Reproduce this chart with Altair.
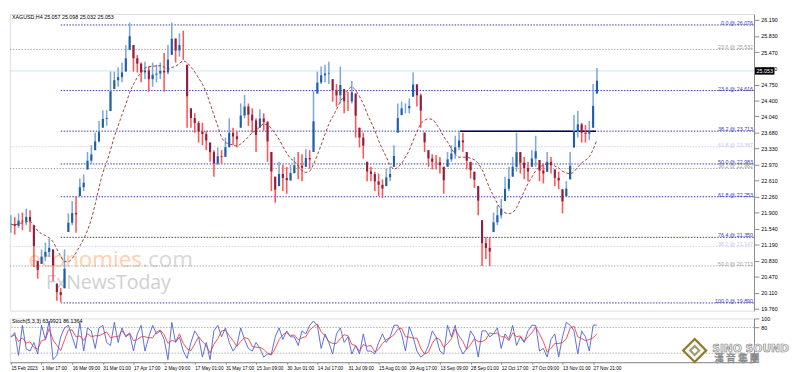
import json
import altair as alt
import pandas as pd

# ---------------- data ----------------
bar_high = [
    21.84, 21.80, 21.88, 21.90, 21.99, 21.95, 21.62, 20.82, 21.08, 21.23,
    21.32, 21.08, 20.32, 20.22, 21.08, 21.88, 22.16, 22.27, 22.66, 22.75,
    23.25, 23.40, 23.68, 23.94, 24.18, 24.18, 25.04, 25.04, 25.13, 25.24,
    25.63, 26.13, 25.63, 25.41, 25.24, 25.26, 25.15, 25.24, 25.19, 25.24,
    25.45, 25.63, 26.13, 25.78, 25.89, 25.95, 25.19, 24.22, 24.11, 23.94,
    23.90, 23.72, 23.46, 23.29, 23.35, 23.29, 23.57, 24.00, 23.79, 23.72,
    24.33, 24.52, 24.33, 24.22, 24.00, 24.20, 24.11, 23.94, 23.25, 22.70,
    23.03, 22.96, 22.92, 22.96, 23.14, 23.25, 23.20, 23.31, 23.29, 24.61,
    25.04, 25.15, 25.19, 25.26, 24.87, 24.76, 25.15, 24.65, 24.59, 24.83,
    24.55, 23.79, 23.68, 23.03, 22.92, 22.81, 22.77, 22.64, 22.88, 22.92,
    23.40, 24.33, 24.37, 24.33, 24.44, 25.02, 24.76, 24.55, 23.68, 23.29,
    23.20, 23.18, 23.14, 22.92, 23.25, 23.40, 23.61, 23.72, 23.68, 23.25,
    23.03, 22.81, 22.49, 21.73, 21.36, 21.36, 21.90, 22.06, 22.21, 22.70,
    22.92, 23.14, 23.68, 23.25, 23.14, 23.03, 23.29, 23.61, 23.07, 22.99,
    23.25, 23.14, 22.86, 22.81, 22.42, 22.60, 23.25, 24.07, 24.16, 23.90,
    23.85, 23.94, 24.76, 25.12,
]
bar_low = [
    21.45, 21.41, 21.56, 21.51, 21.62, 21.47, 20.69, 20.43, 20.76, 20.82,
    20.91, 20.37, 19.94, 19.91, 20.22, 21.47, 21.62, 21.45, 22.27, 22.38,
    22.86, 22.99, 23.29, 23.46, 23.79, 23.83, 24.16, 24.65, 24.70, 24.80,
    25.04, 25.52, 25.04, 25.02, 24.80, 24.87, 24.59, 24.70, 24.80, 24.87,
    24.59, 24.98, 25.41, 25.24, 25.37, 25.30, 23.79, 23.79, 23.68, 23.46,
    23.40, 23.29, 23.03, 22.70, 22.96, 22.99, 23.14, 23.35, 23.40, 23.35,
    23.79, 24.00, 23.83, 23.68, 23.25, 23.79, 23.72, 23.03, 22.38, 22.12,
    22.49, 22.38, 22.32, 22.60, 22.77, 22.64, 22.60, 22.92, 22.88, 23.25,
    24.55, 24.76, 24.80, 24.76, 24.37, 24.26, 24.33, 24.11, 24.16, 24.33,
    23.57, 23.35, 23.10, 22.60, 22.60, 22.38, 22.27, 22.23, 22.49, 22.60,
    22.92, 23.68, 24.07, 24.11, 24.11, 24.48, 24.26, 23.79, 23.25, 22.92,
    22.86, 22.86, 22.77, 22.32, 22.92, 23.03, 23.10, 23.29, 23.25, 22.86,
    22.66, 22.45, 21.84, 20.71, 20.87, 20.71, 21.47, 21.62, 21.77, 22.16,
    22.38, 22.70, 22.81, 22.77, 22.64, 22.60, 22.92, 22.92, 22.60, 22.55,
    22.81, 22.77, 22.49, 22.42, 21.88, 22.27, 22.64, 23.35, 23.57, 23.46,
    23.46, 23.51, 23.79, 24.55,
]
stoch_k = [
    58, 68, 15, 85, 30, 25, 45, 18, 85, 52,
    95, 5, 15, 58, 79, 85, 58, 31, 92, 25,
    79, 72, 31, 79, 85, 45, 38, 92, 45, 79,
    58, 65, 25, 65, 85, 25, 58, 85, 65, 72,
    52, 5, 92, 45, 58, 25, 8, 45, 72, 58,
    11, 45, 5, 72, 85, 58, 79, 45, 25, 38,
    79, 52, 31, 25, 45, 31, 11, 18, 18, 58,
    79, 52, 72, 58, 58, 38, 72, 65, 85, 95,
    85, 31, 65, 45, 18, 65, 79, 45, 58, 18,
    38, 18, 65, 25, 25, 18, 45, 65, 45, 58,
    85, 85, 65, 25, 82, 58, 25, 11, 18, 38,
    72, 58, 25, 18, 85, 58, 85, 38, 18, 31,
    72, 58, 11, 72, 72, 58, 65, 79, 31, 65,
    52, 85, 38, 58, 45, 72, 85, 85, 25, 31,
    11, 52, 65, 11, 58, 92, 85, 72, 18, 72,
    58, 25, 85, 86,
]
date_labels = [
    "15 Feb 2023", "1 Mar 17:00", "16 Mar 09:00", "31 Mar 01:00", "17 Apr 17:00",
    "2 May 09:00", "17 May 01:00", "31 May 17:00", "15 Jun 09:00", "30 Jun 01:00",
    "14 Jul 17:00", "31 Jul 09:00", "15 Aug 01:00", "29 Aug 17:00", "13 Sep 09:00",
    "28 Sep 01:00", "12 Oct 17:00", "27 Oct 09:00", "13 Nov 01:00", "27 Nov 21:00",
]
date_label_bars = [0, 8, 16, 24, 32, 40, 48, 56, 64, 72, 80, 88, 96, 104, 112,
                   120, 128, 136, 144, 152]
price_ticks = [26.190, 25.830, 25.470, 25.110, 24.750, 24.400, 24.040, 23.680,
               23.330, 22.970, 22.610, 22.260, 21.900, 21.540, 21.190, 20.830,
               20.470, 20.110, 19.760]

fib_levels = [26.076, 24.616, 23.713, 22.983, 22.253, 21.350, 19.890,
              25.532, 23.367, 22.882, 21.147, 20.713]
fib_texts = ["0.0 @ 26.076", "23.6 @ 24.616", "38.2 @ 23.713", "50.0 @ 22.983",
             "61.8 @ 22.253", "76.4 @ 21.350", "100.0 @ 19.890",
             "23.6 @ 25.532", "61.8 @ 23.367", "38.2 @ 22.882", "38.2 @ 21.147",
             "50.0 @ 20.713"]
fib_kind = ["main"] * 7 + ["gray", "lav", "gray", "lav", "gray"]
fib_start_bar = [13] * 7 + [-0.25] * 5

last_price = 25.053
resist_level = 23.713
resist_from, resist_to = 117.25, 152.75
header = "XAGUSD,H4  25.057 25.098 25.032 25.053"
stoch_header = "Stoch(5,3,3) 63.9921 86.1364"

# ---------------- tables ----------------
W, H1, H2 = 765, 305, 45
XDOM = [-0.25, 194]

df = pd.DataFrame({"i": range(len(bar_high)), "hi": bar_high, "lo": bar_low})
df["close"] = (df["hi"] + df["lo"]) / 2
df["open"] = df["close"].shift(1).fillna(df["close"])
df["open"] = df[["open", "hi"]].min(axis=1)
df["open"] = df[["open", "lo"]].max(axis=1)
df["up"] = df["close"] >= df["open"]
df["wick"] = df["up"].map({True: "#7fa9d8", False: "#ff5555"})
df["body"] = df["up"].map({True: "#1f5fa6", False: "#8e1f3f"})
df["ma"] = df["close"].rolling(10, min_periods=1).mean()

kind_col = {"main": "#3434b0", "gray": "#a8a8a8", "lav": "#cfd0f2"}
kind_txt = {"main": "#4040b4", "gray": "#a0a0a0", "lav": "#c8c8ee"}
fib = pd.DataFrame({"level": fib_levels, "text": fib_texts, "kind": fib_kind,
                    "x0": fib_start_bar})
fib["x1"] = XDOM[1]
fib["col"] = fib["kind"].map(kind_col)
fib["tcol"] = fib["kind"].map(kind_txt)

sdf = pd.DataFrame({"i": range(len(stoch_k)), "k": stoch_k})
sdf["d"] = sdf["k"].rolling(3, min_periods=1).mean()

xs = alt.Scale(domain=XDOM, nice=False, zero=False)
ys = alt.Scale(domain=[19.718, 26.32], nice=False, zero=False)
FONT = "Liberation Sans"

yaxis = alt.Axis(orient="right", values=price_ticks, format=".3f", grid=False,
                 labelOverlap=False, labelFontSize=5.5, labelPadding=2)

# ---------------- main panel ----------------
fib_rules = alt.Chart(fib).mark_rule(strokeDash=[1.5, 1.5], strokeWidth=1).encode(
    x=alt.X("x0:Q", scale=xs, axis=None), x2="x1:Q",
    y=alt.Y("level:Q", scale=ys, title=None, axis=yaxis),
    color=alt.Color("col:N", scale=None))

fib_text = alt.Chart(fib).mark_text(align="right", baseline="bottom", dy=1,
                                     fontSize=5.5, font=FONT).encode(
    x=alt.value(W - 1), y=alt.Y("level:Q", scale=ys, title=None, axis=yaxis),
    text="text:N", color=alt.Color("tcol:N", scale=None))

price_line = alt.Chart(pd.DataFrame({"p": [last_price], "a": [XDOM[0]], "b": [XDOM[1]]})).mark_rule(
    color="#c4e8f0", strokeWidth=1).encode(
    x=alt.X("a:Q", scale=xs, axis=None), x2="b:Q",
    y=alt.Y("p:Q", scale=ys, title=None, axis=yaxis))

resist = alt.Chart(pd.DataFrame({"p": [resist_level], "a": [resist_from], "b": [resist_to]})).mark_rule(
    color="#00005a", strokeWidth=1.5).encode(
    x=alt.X("a:Q", scale=xs, axis=None), x2="b:Q",
    y=alt.Y("p:Q", scale=ys, title=None, axis=yaxis))

wicks = alt.Chart(df).mark_rule(strokeWidth=1.6).encode(
    x=alt.X("i:Q", scale=xs, axis=None),
    y=alt.Y("lo:Q", scale=ys, title=None, axis=yaxis),
    y2="hi:Q", color=alt.Color("wick:N", scale=None))

bodies = alt.Chart(df).mark_rule(strokeWidth=2.2).encode(
    x=alt.X("i:Q", scale=xs, axis=None),
    y=alt.Y("open:Q", scale=ys, title=None, axis=yaxis), y2="close:Q",
    color=alt.Color("body:N", scale=None))

ma = alt.Chart(df).mark_line(color="#a23b3b", strokeWidth=1, strokeDash=[3, 2],
                             interpolate="monotone").encode(
    x=alt.X("i:Q", scale=xs, axis=None),
    y=alt.Y("ma:Q", scale=ys, title=None, axis=yaxis))

head = alt.Chart(pd.DataFrame({"t": [header]})).mark_text(
    align="left", baseline="top", fontSize=5.5, font=FONT, color="#000").encode(
    x=alt.value(2), y=alt.value(1), text="t:N")

wm = pd.DataFrame({"t": ["economies", ".com", "FxNewsToday"],
                   "x": [19, 136, 37], "y": [260, 260, 283],
                   "c": ["#ffd0b0", "#d8d8d8", "#d0d0d0"],
                   "s": [23, 23, 20]})
wm_layers = []
for _, r in wm.iterrows():
    wm_layers.append(alt.Chart(pd.DataFrame({"t": [r["t"]]})).mark_text(
        align="left", baseline="alphabetic", fontSize=float(r["s"]), font="Open Sans",
        color=r["c"]).encode(x=alt.value(float(r["x"])), y=alt.value(float(r["y"])),
                             text="t:N"))

box = alt.Chart(pd.DataFrame({"p": [last_price], "t": ["25.053"]})).mark_point(
    shape="M-1,-0.38L1,-0.38L1,0.38L-1,0.38Z", filled=True, size=400, color="black",
    opacity=1).encode(x=alt.value(W + 11),
                      y=alt.Y("p:Q", scale=ys, title=None, axis=yaxis))
box_t = alt.Chart(pd.DataFrame({"p": [last_price], "t": ["25.053"]})).mark_text(
    fontSize=5.5, font=FONT, color="white").encode(
    x=alt.value(W + 11), y=alt.Y("p:Q", scale=ys, title=None, axis=yaxis), text="t:N")

main = alt.layer(*wm_layers, fib_rules, price_line, resist, wicks, bodies, ma,
                 fib_text, head, box, box_t).properties(width=W, height=H1)

# ---------------- stochastic panel ----------------
ss = alt.Scale(domain=[-1, 101], nice=False, zero=False)
label_expr = json.dumps(date_labels) + "[round(datum.value/8)]"
xaxis = alt.Axis(values=date_label_bars, labelExpr=label_expr, labelAlign="left",
                 labelFlush=False, grid=False, labelOverlap=False, tickSize=2,
                 labelPadding=1, labelFontSize=4.8, labelFont=FONT,
                 labelBaseline="top")
saxis = alt.Axis(orient="right", values=[100, 80], grid=False, labelFontSize=5.5,
                 labelOverlap=False)

lv = alt.Chart(pd.DataFrame({"v": [80, 20]})).mark_rule(
    color="#b0b0b0", strokeDash=[1.5, 1.5]).encode(
    y=alt.Y("v:Q", scale=ss, title=None, axis=saxis))

dline = alt.Chart(sdf).mark_line(color="#ff4a4a", strokeWidth=1).encode(
    x=alt.X("i:Q", scale=xs, title=None, axis=xaxis),
    y=alt.Y("d:Q", scale=ss, title=None, axis=saxis))
kline = alt.Chart(sdf).mark_line(color="#4a5ed6", strokeWidth=0.9).encode(
    x=alt.X("i:Q", scale=xs, title=None, axis=xaxis),
    y=alt.Y("k:Q", scale=ss, title=None, axis=saxis))

shead = alt.Chart(pd.DataFrame({"t": [stoch_header]})).mark_text(
    align="left", baseline="top", fontSize=5.5, font=FONT, color="#000").encode(
    x=alt.value(2), y=alt.value(1), text="t:N")

logo_d = pd.DataFrame({"s": [720, 420, 150, 40],
                       "c": ["#8a7a2a", "#f4f4f4", "#9aa070", "#ffffff"]})
logo_layers = []
for _, r in logo_d.iterrows():
    logo_layers.append(alt.Chart(pd.DataFrame({"k": [1]})).mark_point(
        shape="diamond", filled=True, opacity=1, size=float(r["s"]), color=r["c"]).encode(
        x=alt.value(704), y=alt.value(33)))
logo_t1 = alt.Chart(pd.DataFrame({"t": ["SINO SOUND"]})).mark_text(
    align="left", baseline="alphabetic", fontSize=11, fontWeight="bold", font="DejaVu Sans",
    color="#f2f2f2", stroke="#8a8a8a", strokeWidth=0.7).encode(
    x=alt.value(722), y=alt.value(35), text="t:N")
logo_t2 = alt.Chart(pd.DataFrame({"t": ["漢  音  集  團"]})).mark_text(
    align="left", baseline="alphabetic", fontSize=10, font="Noto Sans CJK TC",
    color="#f2f2f2", stroke="#8a8a8a", strokeWidth=0.6).encode(
    x=alt.value(724), y=alt.value(45), text="t:N")

stoch = alt.layer(lv, dline, kline, shead, *logo_layers, logo_t1, logo_t2).properties(
    width=W, height=H2)

chart = alt.vconcat(main, stoch, spacing=2).properties(padding=0).configure_view(
    stroke="#666666", strokeWidth=1).configure_axis(
    labelFont=FONT, labelFontSize=5.5, labelColor="#000", tickColor="#000",
    domainColor="#000", tickSize=3, labelPadding=2,
    labelOverlap=False).configure(background="white")

chart.save("out.html", embed_options={"renderer": "svg", "actions": False})
